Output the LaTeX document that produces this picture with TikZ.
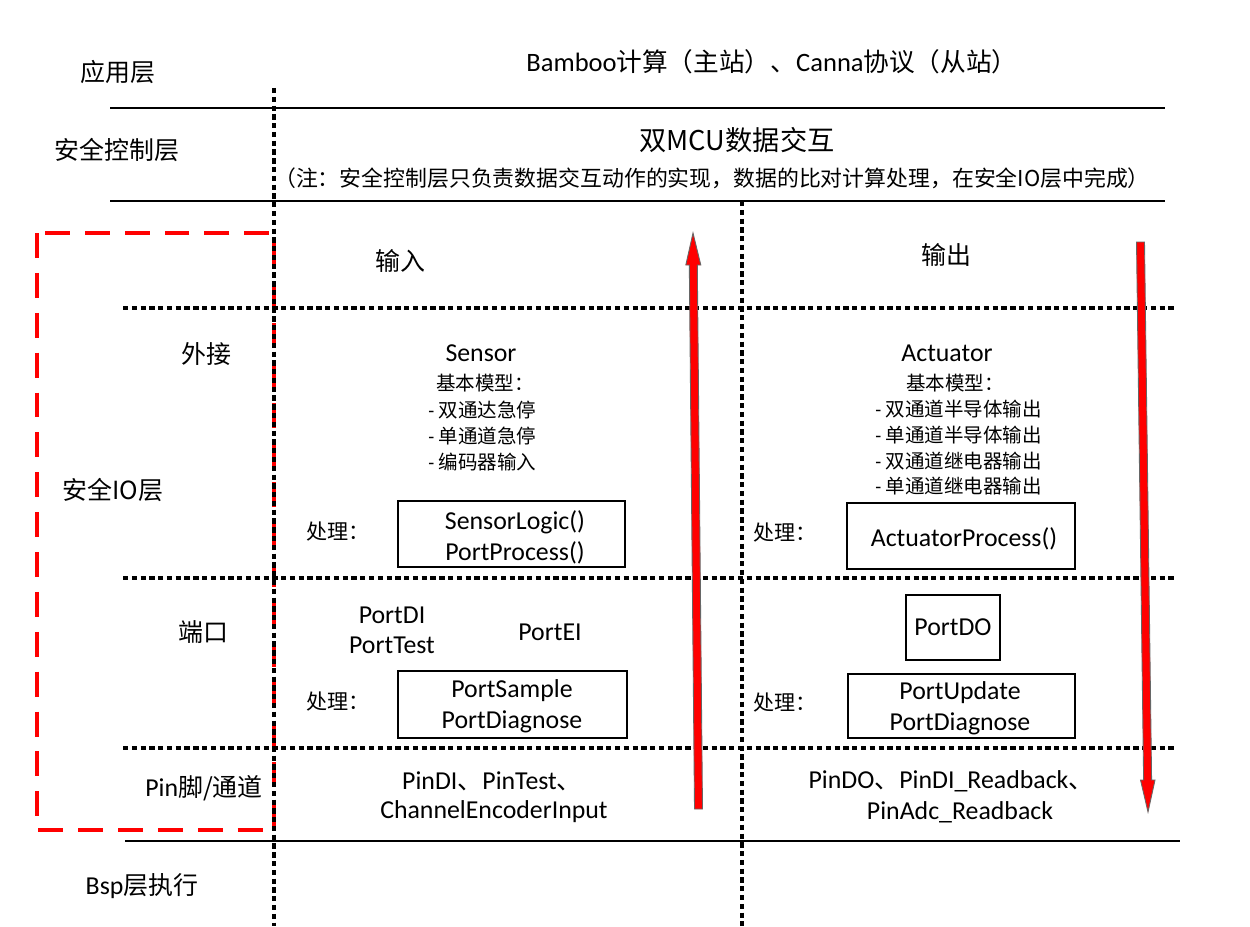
\documentclass[tikz,border=0pt]{standalone}
\usepackage{fontspec}
\setmainfont{Carlito}
\newfontfamily\cjk{Noto Sans CJK SC}
\usetikzlibrary{fit}
\newcommand\fsz[2]{\fontsize{#1}{#2}\selectfont}
\begin{document}
\begin{tikzpicture}[x=0.02cm,y=-0.02cm,
  solidline/.style={line width=1.6pt},
  dotline/.style={line width=1.9pt, dash pattern=on 3pt off 2pt},
  reddash/.style={red, line width=1.9pt, dash pattern=on 14.2pt off 8.5pt},
  procbox/.style={draw, line width=1.1pt, fill=white, inner sep=0pt},
  layer/.style={font=\cjk\fsz{14.2}{17}, inner sep=0pt},
  latin/.style={font=\fsz{14.7}{17.6}, inner sep=0pt, align=center},
  small/.style={font=\cjk\fsz{11.1}{14.6}, inner sep=0pt, align=left},
  proc/.style={font=\cjk\fsz{12}{14}, inner sep=0pt},
  bigarrow/.style={draw=black!60, line width=0.5pt, fill=red}
]
\useasboundingbox (0,0) rectangle (1250,926);

% layer lines
\coordinate (l1a) at (110,108); \coordinate (l1b) at (1165,108);
\coordinate (l2a) at (110,201); \coordinate (l2b) at (1165,201);
\coordinate (l3a) at (125,841); \coordinate (l3b) at (1180,841);
\draw[solidline] (l1a) -- (l1b);
\draw[solidline] (l2a) -- (l2b);
\draw[solidline] (l3a) -- (l3b);

% red dashed frame
\draw[reddash] (37,233) rectangle (274,830);

% dotted lines
\coordinate (d1a) at (123,308); \coordinate (d1b) at (1175,308);
\coordinate (d2a) at (123,578); \coordinate (d2b) at (1175,578);
\coordinate (d3a) at (123,748); \coordinate (d3b) at (1175,748);
\coordinate (v1a) at (274,88);  \coordinate (v1b) at (274,926);
\coordinate (v2a) at (742,201); \coordinate (v2b) at (742,926);
\draw[dotline] (d1a) -- (d1b);
\draw[dotline] (d2a) -- (d2b);
\draw[dotline] (d3a) -- (d3b);
\draw[dotline] (v1a) -- (v1b);
\draw[dotline] (v2a) -- (v2b);

% left labels
\node[layer] (app) at (118,72) {应用层};
\node[layer] (safe) at (117,150) {安全控制层};
\node[layer] (wj) at (206,354) {外接};
\node[layer] (sio) at (113,490) {安全IO层};
\node[layer] (dk) at (203,632) {端口};
\node[latin] (pin) at (204,788) {Pin{\cjk\fsz{14.2}{17}脚/通道}};
\node[latin] (bsp) at (142,886) {Bsp{\cjk\fsz{14.2}{17}层执行}};

% header texts
\node[font=\fsz{15.1}{18}, inner sep=0pt] (bamboo) at (772,62) {Bamboo{\cjk\fsz{14.6}{17}计算（主站）、}Canna{\cjk\fsz{14.6}{17}协议（从站）}};
\node[font=\cjk\fsz{15.5}{18}, inner sep=0pt] (mcu) at (737,140) {双MCU数据交互};
\node[font=\cjk\fsz{12.45}{14}, inner sep=0pt] (note) at (712,178) {（注：安全控制层只负责数据交互动作的实现，数据的比对计算处理，在安全IO层中完成）};

\node[layer] (in) at (400,261) {输入};
\node[layer] (out) at (946,255) {输出};

% Sensor
\node[latin] (sensor) at (481,353) {Sensor};
\node[small] (smodel) at (485,383) {基本模型：};
\node[small, anchor=west] (slist) at (428,436) {{\rmfamily -} 双通达急停\\{\rmfamily -} 单通道急停\\{\rmfamily -} 编码器输入};
\node[proc] (sproc) at (338,532) {处理：};
\node[procbox, fit={(398,501) (625,567)}] (sbox) {};
\node[latin] (slogic) at (515,522) {SensorLogic()};
\node[latin] (spp) at (515,553) {PortProcess()};

% Actuator
\node[latin] (act) at (947,353) {Actuator};
\node[small] (amodel) at (955,383) {基本模型：};
\node[small, anchor=west] (alist) at (875,448) {{\rmfamily -} 双通道半导体输出\\{\rmfamily -} 单通道半导体输出\\{\rmfamily -} 双通道继电器输出\\{\rmfamily -} 单通道继电器输出};
\node[proc] (aproc) at (785,533) {处理：};
\node[procbox, fit={(847,503) (1075,569)}] (abox) {};
\node[latin] (aprocess) at (964,539) {ActuatorProcess()};

% Port row left
\node[latin] (portdi) at (392,615) {PortDI};
\node[latin] (porttest) at (392,645) {PortTest};
\node[latin] (portei) at (550,632) {PortEI};
\node[proc] (pproc) at (338,702) {处理：};
\node[procbox, fit={(398,671) (627,738)}] (pbox) {};
\node[latin] (psample) at (512,691) {PortSample};
\node[latin] (pdiag) at (512,722) {PortDiagnose};

% Port row right
\node[procbox, fit={(906,595) (1000,660)}] (dobox) {};
\node[latin] (portdo) at (953,627) {PortDO};
\node[proc] (qproc) at (785,703) {处理：};
\node[procbox, fit={(848,674) (1075,738)}] (qbox) {};
\node[latin] (pupdate) at (960,693) {PortUpdate};
\node[latin] (qdiag) at (960,724) {PortDiagnose};

% Pin row
\node[latin] (pinl1) at (492,781) {PinDI{\cjk\fsz{14.2}{17}、}PinTest{\cjk\fsz{14.2}{17}、}};
\node[latin] (pinl2) at (494,812) {ChannelEncoderInput};
\node[latin] (pinr1) at (951,781) {PinDO{\cjk\fsz{14.2}{17}、}PinDI\_Readback{\cjk\fsz{14.2}{17}、}};
\node[latin] (pinr2) at (960,812) {PinAdc\_Readback};

% big arrows
\draw[bigarrow] (694.5,809) -- (689.3,265) -- (685.8,265) -- (693,233) -- (700.8,265) -- (697.3,265) -- (702.5,809) -- cycle;
\draw[bigarrow] (1136.5,242) -- (1144.5,242) -- (1151.6,780) -- (1155,780) -- (1148,812) -- (1140.5,780) -- (1143.6,780) -- cycle;
\end{tikzpicture}
\end{document}
